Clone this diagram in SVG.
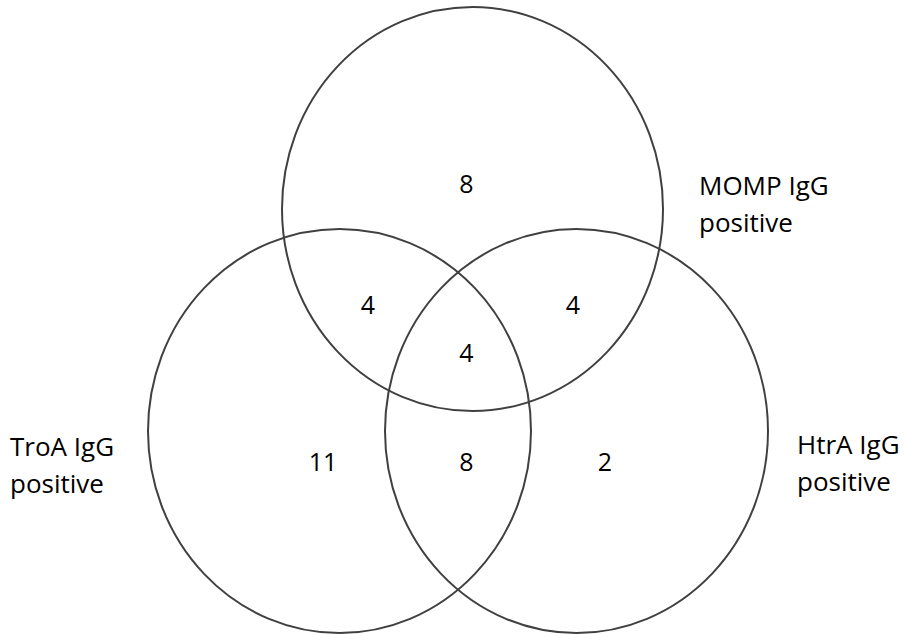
<svg xmlns="http://www.w3.org/2000/svg" width="904" height="634" viewBox="0 0 904 634">
<style>
.c{fill:none;stroke:#404040;stroke-width:2}
.n{font-family:"Open Sans","Liberation Sans",sans-serif;font-size:25px;fill:#000;text-anchor:middle}
.l{font-family:"Open Sans","Liberation Sans",sans-serif;font-size:26px;fill:#000}
</style>
<rect width="904" height="634" fill="#fff"/>
<g id="momp"><ellipse class="c" cx="472.5" cy="209" rx="190.5" ry="202"/></g>
<g id="troa"><ellipse class="c" cx="339.5" cy="431" rx="191.5" ry="202"/></g>
<g id="htra"><ellipse class="c" cx="576.5" cy="431" rx="191.5" ry="202"/></g>
<g id="counts">
<text class="n" x="466.5" y="193">8</text>
<text class="n" x="368" y="314">4</text>
<text class="n" x="573" y="314">4</text>
<text class="n" x="466.5" y="362">4</text>
<text class="n" x="323" y="471">11</text>
<text class="n" x="466.5" y="471">8</text>
<text class="n" x="605" y="471">2</text>
</g>
<g id="labels">
<text class="l" x="699" y="195">MOMP IgG<tspan x="699" y="232">positive</tspan></text>
<text class="l" x="10" y="456">TroA IgG<tspan x="10" y="493">positive</tspan></text>
<text class="l" x="797" y="454">HtrA IgG<tspan x="797" y="491">positive</tspan></text>
</g>
</svg>
